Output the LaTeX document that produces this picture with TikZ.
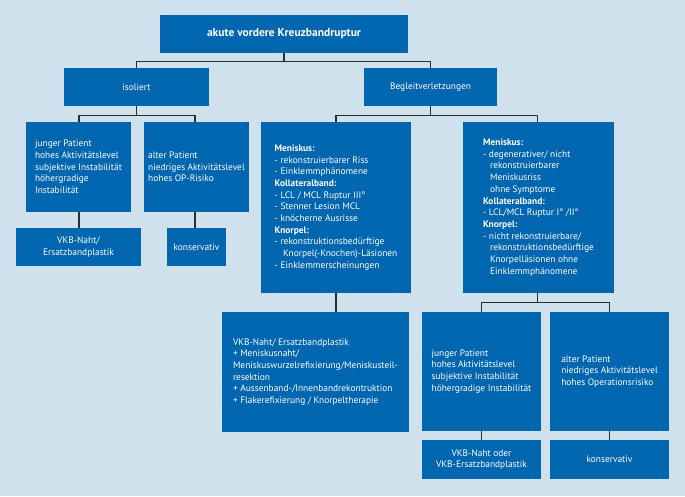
\documentclass[tikz,border=0pt]{standalone}
\usepackage{fontspec}
\setmainfont{PT Sans}
\usepackage{xcolor}
\definecolor{hgblau}{RGB}{208,225,238}
\definecolor{kastenblau}{RGB}{0,102,176}
\definecolor{linie}{RGB}{45,45,45}
\newcommand{\einr}{\hspace*{7pt}}
\tikzset{
  kasten/.style={fill=kastenblau, text=white, font=\fontsize{9.4}{11.7}\selectfont,
    inner sep=2pt, align=center},
  linkskasten/.style={kasten, align=left},
  verb/.style={draw=linie, line width=1.2pt}
}

\begin{document}
\begin{tikzpicture}[x=1pt,y=-1pt]
% Hintergrund, 685 x 496
\useasboundingbox[fill=hgblau] (0,0) rectangle (685,496);
% Ebene 1
\node[kasten, minimum width=248pt, minimum height=38pt, font=\fontsize{11.5}{13}\selectfont\bfseries]
  (ruptur) at (284,34) {akute vordere Kreuzbandruptur};
% Ebene 2
\node[kasten, minimum width=145pt, minimum height=38pt] (isoliert) at (136.5,87) {isoliert};
\node[kasten, minimum width=133pt, minimum height=38pt] (begleit) at (430.5,87) {Begleitverletzungen};
% Ebene 3 -- isoliert
\node[linkskasten, minimum width=105pt, minimum height=90pt]
  (jung1) at (78.5,167) {junger Patient\\hohes Aktivitätslevel\\subjektive Instabilität\\höhergradige\\Instabilität};
\node[linkskasten, minimum width=105pt, minimum height=90pt]
  (alt1) at (196.5,167) {alter Patient\\niedriges Aktivitätslevel\\hohes OP-Risiko};
\node[kasten, minimum width=125pt, minimum height=38pt] (naht1) at (78.5,247) {VKB-Naht/\\Ersatzbandplastik};
\node[kasten, minimum width=59pt, minimum height=38pt] (kons1) at (196.5,247) {konservativ};
% Ebene 3 -- Begleitverletzungen
\node[linkskasten, minimum width=150pt, minimum height=171pt]
  (menisk1) at (336,207.5) {\textbf{Meniskus:}\\- rekonstruierbarer Riss\\- Einklemmphänomene\\
  \textbf{Kollateralband:}\\- LCL / MCL Ruptur III°\\- Stenner Lesion MCL\\- knöcherne Ausrisse\\
  \textbf{Knorpel:}\\- rekonstruktionsbedürftige\\\einr\hspace*{1.5pt}Knorpel(-Knochen)-Läsionen\\- Einklemmerscheinungen};
\node[linkskasten, minimum width=151pt, minimum height=171pt]
  (menisk2) at (538.5,207.5) {\textbf{Meniskus:}\\- degenerativer/ nicht\\\einr rekonstruierbarer\\
  \einr Meniskusriss\\\einr ohne Symptome\\\textbf{Kollateralband:}\\- LCL/MCL Ruptur I° /II°\\
  \textbf{Knorpel:}\\- nicht rekonstruierbare/\\\einr rekonstruktionsbedürftige\\
  \einr Knorpelläsionen ohne\\\einr Einklemmphänomene};
% Ebene 4
\node[linkskasten, minimum width=187pt, minimum height=120pt]
  (therapie) at (315.5,372) {VKB-Naht/ Ersatzbandplastik\\+ Meniskusnaht/\\
  Meniskuswurzelrefixierung/Meniskusteil-\\resektion\\+ Aussenband-/Innenbandrekontruktion\\
  + Flakerefixierung / Knorpeltherapie};
\node[linkskasten, minimum width=119pt, minimum height=119pt]
  (jung2) at (481.5,371.5) {junger Patient\\hohes Aktivitätslevel\\subjektive Instabilität\\höhergradige Instabilität};
\node[linkskasten, minimum width=119pt, minimum height=119pt]
  (alt2) at (609.5,371.5) {alter Patient\\niedriges Aktivitätslevel\\hohes Operationsrisiko};
\node[kasten, minimum width=119pt, minimum height=39pt] (naht2) at (481.5,459.5) {VKB-Naht oder\\VKB-Ersatzbandplastik};
\node[kasten, minimum width=119pt, minimum height=39pt] (kons2) at (609.5,459.5) {konservativ};
% Verbindungen
\draw[verb] (ruptur.south) -- ++(0,8) -| (isoliert.north);
\draw[verb] (ruptur.south) -- ++(0,8) -| (begleit.north);
\draw[verb] (isoliert.south) -- ++(0,9) -| ([xshift=0.5pt]jung1.north);
\draw[verb] (isoliert.south) -- ++(0,9) -| ([xshift=-1.5pt]alt1.north);
\draw[verb] (begleit.south) -- ++(0,9) -| (menisk1.north);
\draw[verb] (begleit.south) -- ++(0,9) -| ([xshift=-1pt]menisk2.north);
\draw[verb] ([xshift=0.5pt]jung1.south) -- ([xshift=0.5pt]naht1.north);
\draw[verb] ([xshift=-1.5pt]alt1.south) -- ([xshift=-1.5pt]kons1.north);
\draw[verb] (menisk1.south) -- (menisk1.south |- therapie.north);
\draw[verb] ([xshift=-1pt]menisk2.south) -- ++(0,9) -| (jung2.north);
\draw[verb] ([xshift=-1pt]menisk2.south) -- ++(0,9) -| (alt2.north);
\draw[verb] (jung2.south) -- (naht2.north);
\draw[verb] (alt2.south) -- (kons2.north);
\end{tikzpicture}
\end{document}
